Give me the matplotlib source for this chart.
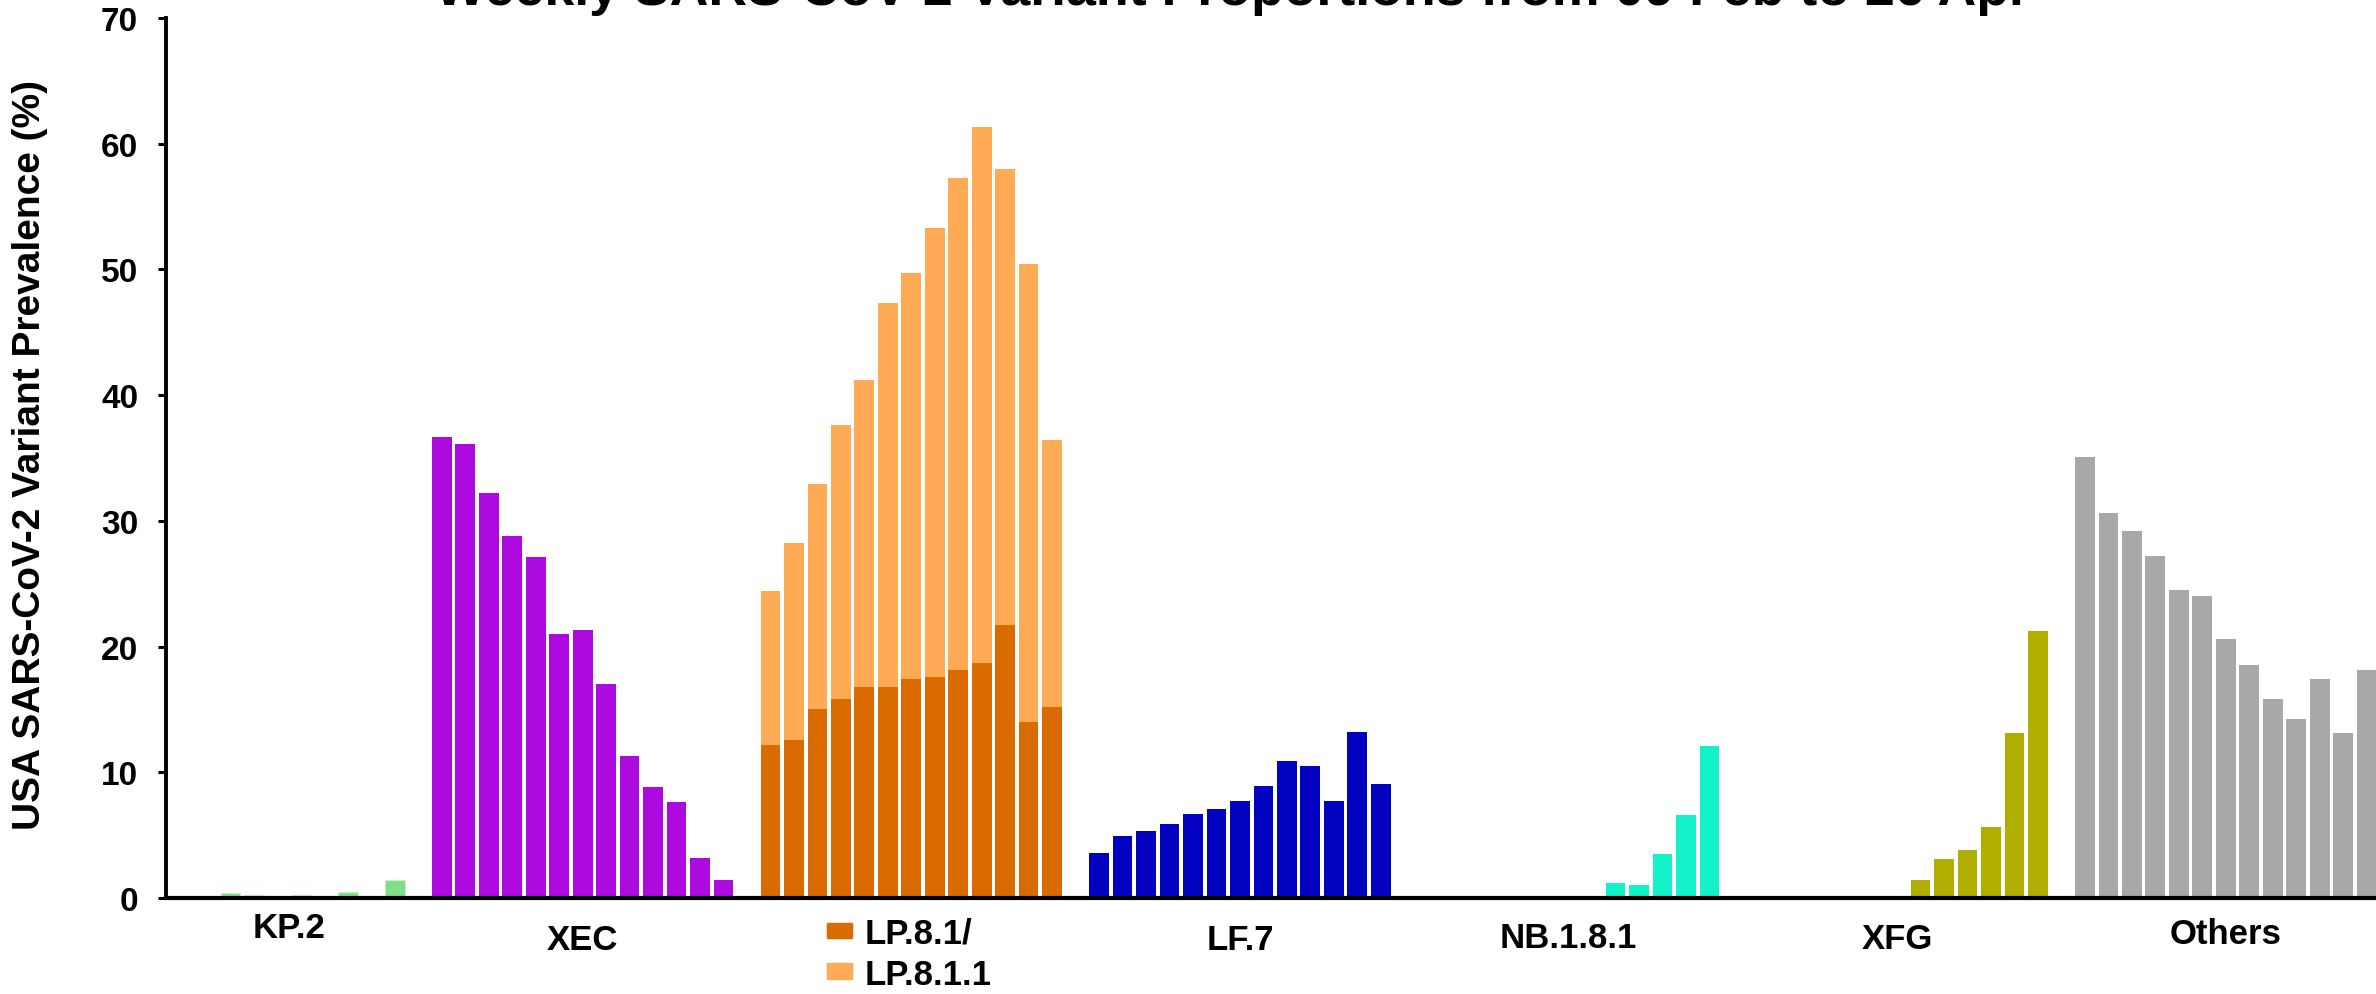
"""Weekly SARS-CoV-2 variant proportions, grouped bar chart (one block of weeks per variant)."""
import matplotlib
matplotlib.use("Agg")
import matplotlib.pyplot as plt
from matplotlib import font_manager
from matplotlib.patches import Patch
import numpy as np

# ---- data ----
groups = ["KP.2", "XEC", "LP.8.1/LP.8.1.1", "LF.7", "NB.1.8.1", "XFG", "Others"]

# KP.2: only the last ten weeks are visible in the reference
kp2 = [0.16, 0.08, 0.37, 0.24, 0.19, 0.24, 0.08, 0.50, 0.13, 1.41]
xec = [36.7, 36.1, 32.2, 28.8, 27.1, 21.0, 21.3, 17.0, 11.3, 8.8, 7.6, 3.2, 1.4]
lp81 = [12.2, 12.6, 15.0, 15.8, 16.8, 16.8, 17.4, 17.6, 18.1, 18.7, 21.7, 14.0, 15.2]
lp811 = [12.2, 15.6, 17.9, 21.8, 24.4, 30.5, 32.3, 35.7, 39.2, 42.6, 36.3, 36.4, 21.2]
lf7 = [3.6, 4.9, 5.3, 5.9, 6.7, 7.1, 7.7, 8.9, 10.9, 10.5, 7.7, 13.2, 9.1]
nb181 = [0, 0, 0, 0, 0, 0, 0.15, 0.15, 1.2, 1.0, 3.5, 6.6, 12.1]
xfg = [0, 0, 0, 0, 0, 0, 0.16, 1.45, 3.1, 3.85, 5.65, 13.15, 21.2]
others = [35.1, 30.6, 29.2, 27.2, 24.5, 24.0, 20.6, 18.5, 15.8, 14.2, 17.4, 13.1, 18.1]

title = "Weekly SARS-CoV-2 Variant Proportions from 09 Feb to 26 Apr"
ylabel = "USA SARS-CoV-2 Variant Prevalence (%)"

COLORS = {
    "KP.2": "#80DD88",
    "XEC": "#AD0AE0",
    "LP.8.1": "#D96B00",
    "LP.8.1.1": "#FFAA55",
    "LF.7": "#0202C0",
    "NB.1.8.1": "#14F2C9",
    "XFG": "#B0AE00",
    "Others": "#A8A8A8",
}

names = {f.name for f in font_manager.fontManager.ttflist}
narrow = "Liberation Sans Narrow" if "Liberation Sans Narrow" in names else None

plt.rcParams["font.family"] = ["Liberation Sans", "DejaVu Sans"]
plt.rcParams["font.weight"] = "bold"

W, H = 2376, 995
fig = plt.figure(figsize=(W / 100, H / 100), dpi=100)
ax = fig.add_axes([166 / W, 1 - 899 / H, (W - 166) / W, 880 / H])

SLOTS = 14      # 13 weeks + one empty slot per group
BW = 0.84


def xs(group_idx, n, start=0):
    return group_idx * SLOTS + start + np.arange(n)


ax.bar(xs(0, len(kp2), start=3), kp2, width=BW, color=COLORS["KP.2"],
       edgecolor="#c8f0cc", linewidth=0.8)
ax.bar(xs(1, len(xec)), xec, width=BW, color=COLORS["XEC"], linewidth=0)
ax.bar(xs(2, len(lp81)), lp81, width=BW, color=COLORS["LP.8.1"], linewidth=0)
ax.bar(xs(2, len(lp811)), lp811, bottom=lp81, width=BW, color=COLORS["LP.8.1.1"], linewidth=0)
ax.bar(xs(3, len(lf7)), lf7, width=BW, color=COLORS["LF.7"], linewidth=0)
ax.bar(xs(4, len(nb181)), nb181, width=BW, color=COLORS["NB.1.8.1"], linewidth=0)
ax.bar(xs(5, len(xfg)), xfg, width=BW, color=COLORS["XFG"], linewidth=0)
ax.bar(xs(6, len(others)), others, width=BW, color=COLORS["Others"], linewidth=0)

ax.set_xlim(2.25, 96.4)
ax.set_ylim(0, 70)
ax.set_yticks(range(0, 71, 10))
ax.set_xticks([])
ax.tick_params(axis="y", direction="out", length=6, width=2.2, pad=14, labelsize=24)
for lab in ax.get_yticklabels():
    lab.set_fontweight("bold")

for side in ("top", "right"):
    ax.spines[side].set_visible(False)
ax.spines["left"].set_linewidth(2.8)
ax.spines["bottom"].set_linewidth(3.0)

# group labels under the x axis
lab_kw = dict(ha="center", va="baseline", fontsize=25, fontweight="bold",
              transform=ax.get_xaxis_transform())
ax.text(7.5, -0.044, "KP.2", **lab_kw)
ax.text(1 * SLOTS + 6, -0.058, "XEC", **lab_kw)
ax.text(3 * SLOTS + 6, -0.058, "LF.7", **lab_kw)
ax.text(4 * SLOTS + 6, -0.056, "NB.1.8.1", **lab_kw)
ax.text(5 * SLOTS + 6, -0.057, "XFG", **lab_kw)
ax.text(6 * SLOTS + 6, -0.051, "Others", **lab_kw)

handles = [Patch(color=COLORS["LP.8.1"], label="LP.8.1/"),
           Patch(color=COLORS["LP.8.1.1"], label="LP.8.1.1")]
leg = fig.legend(handles=handles, loc="upper left", bbox_to_anchor=(827 / W, 1 - 918 / H),
                 frameon=False, fontsize=25, handlelength=0.72, handleheight=0.3,
                 handletextpad=0.37, labelspacing=0.22, borderpad=0, borderaxespad=0)
for t in leg.get_texts():
    t.set_fontweight("bold")

# y label (condensed face if available)
ylab_kw = dict(rotation=90, ha="center", va="center", fontweight="bold")
if narrow:
    fig.text(30 / W, 1 - 455 / H, ylabel, fontsize=35, family=narrow, **ylab_kw)
else:
    fig.text(30 / W, 1 - 455 / H, ylabel, fontsize=28, **ylab_kw)

# title sits mostly above the top edge, as in the reference crop
fig.text(435 / W, 1 - 5.5 / H, title, ha="left", va="baseline",
         fontsize=38.6, fontweight="bold")

fig.savefig("out.png", dpi=100)
